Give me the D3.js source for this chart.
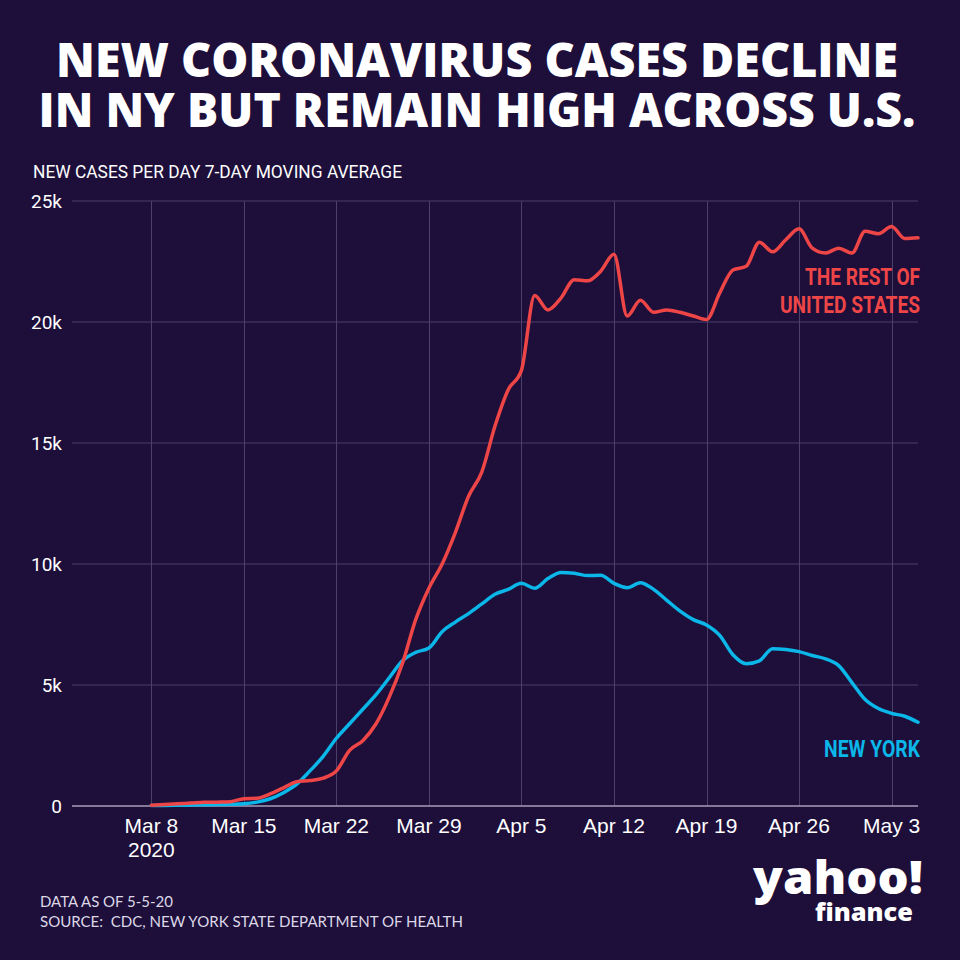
<!DOCTYPE html>
<html>
<head>
<meta charset="utf-8">
<script src="https://cdn.jsdelivr.net/npm/d3@7"></script>
<style>
  html, body { margin: 0; padding: 0; background: #1d0e3a; }
  svg { display: block; }
</style>
</head>
<body>
<svg id="chart" width="960" height="960"></svg>
<script>
// ---------- DATA ----------
const dates = [
  "2020-03-08","2020-03-09","2020-03-10","2020-03-11","2020-03-12","2020-03-13","2020-03-14",
  "2020-03-15","2020-03-16","2020-03-17","2020-03-18","2020-03-19","2020-03-20","2020-03-21",
  "2020-03-22","2020-03-23","2020-03-24","2020-03-25","2020-03-26","2020-03-27","2020-03-28",
  "2020-03-29","2020-03-30","2020-03-31","2020-04-01","2020-04-02","2020-04-03","2020-04-04",
  "2020-04-05","2020-04-06","2020-04-07","2020-04-08","2020-04-09","2020-04-10","2020-04-11",
  "2020-04-12","2020-04-13","2020-04-14","2020-04-15","2020-04-16","2020-04-17","2020-04-18",
  "2020-04-19","2020-04-20","2020-04-21","2020-04-22","2020-04-23","2020-04-24","2020-04-25",
  "2020-04-26","2020-04-27","2020-04-28","2020-04-29","2020-04-30","2020-05-01","2020-05-02",
  "2020-05-03","2020-05-04","2020-05-05"
];
const restOfUS = [
  30, 60, 90, 120, 150, 160, 180,
  300, 320, 500, 750, 1000, 1050, 1150,
  1450, 2300, 2700, 3400, 4500, 5900, 7700,
  9000, 10000, 11300, 12800, 13800, 15700, 17200,
  18000, 21100, 20500, 21000, 21750, 21700, 22100,
  22800, 20250, 20900, 20400, 20500, 20400, 20250,
  20100, 21200, 22150, 22300, 23300, 22900, 23400,
  23850, 23050, 22850, 23050, 22850, 23750, 23650,
  23950, 23450, 23480
];
const newYork = [
  20, 25, 30, 40, 50, 60, 70,
  90, 160, 300, 550, 900, 1450, 2050,
  2800, 3400, 4000, 4600, 5300, 6000, 6350,
  6530, 7200, 7600, 7950, 8350, 8750, 8950,
  9200, 9000, 9400, 9650, 9620, 9520, 9530,
  9200, 9020, 9230, 8950, 8500, 8050, 7700,
  7480, 7050, 6250, 5880, 6000, 6500, 6470,
  6380, 6220, 6080, 5800, 5100, 4400, 4030,
  3830, 3710, 3460
];
const xTickDates = ["2020-03-08","2020-03-15","2020-03-22","2020-03-29","2020-04-05","2020-04-12","2020-04-19","2020-04-26","2020-05-03"];
const xTickLabels = ["Mar 8","Mar 15","Mar 22","Mar 29","Apr 5","Apr 12","Apr 19","Apr 26","May 3"];
const yTicks = [0, 5000, 10000, 15000, 20000, 25000];
const yTickLabels = ["0","5k","10k","15k","20k","25k"];
const titleLines = ["NEW CORONAVIRUS CASES DECLINE", "IN NY BUT REMAIN HIGH ACROSS U.S."];
const subtitle = "NEW CASES PER DAY 7-DAY MOVING AVERAGE";
const footnotes = ["DATA AS OF 5-5-20", "SOURCE:  CDC, NEW YORK STATE DEPARTMENT OF HEALTH"];

// ---------- SETUP ----------
const parse = d3.timeParse("%Y-%m-%d");
const svg = d3.select("#chart");
const BG = "#1d0e3a", RED = "#ee4647", BLUE = "#0bb6e8", GRID = "#4b4068";

svg.append("rect").attr("width", 960).attr("height", 960).attr("fill", BG);

const x = d3.scaleTime()
  .domain([parse("2020-03-02"), parse("2020-05-06")])
  .range([72, 918 + 13.22]);
const y = d3.scaleLinear().domain([0, 25000]).range([806, 201]);
const plotRight = 918;

// Title (one text block, two lines)
const title = svg.append("text")
  .style("font-family", "'Open Sans', sans-serif")
  .style("font-weight", 800)
  .style("font-size", "47px")
  .attr("fill", "#ffffff")
  .attr("text-anchor", "middle");
title.selectAll("tspan").data(titleLines).enter().append("tspan")
  .attr("x", 477).attr("y", (d, i) => 77 + i * 50)
  .attr("textLength", (d, i) => i === 0 ? 842 : 877)
  .attr("lengthAdjust", "spacingAndGlyphs")
  .text(d => d);

// Subtitle
svg.append("text")
  .attr("x", 33).attr("y", 178)
  .attr("textLength", 369).attr("lengthAdjust", "spacingAndGlyphs")
  .style("font-family", "Roboto, sans-serif")
  .style("font-size", "19px")
  .attr("fill", "#ffffff")
  .text(subtitle);

// Gridlines horizontal
svg.append("g").selectAll("line").data(yTicks.filter(v => v > 0)).enter().append("line")
  .attr("x1", 72).attr("x2", plotRight)
  .attr("y1", d => y(d)).attr("y2", d => y(d))
  .attr("stroke", GRID).attr("stroke-width", 1);

// Gridlines vertical
svg.append("g").selectAll("line").data(xTickDates).enter().append("line")
  .attr("x1", d => Math.round(x(parse(d))) + 0.5).attr("x2", d => Math.round(x(parse(d))) + 0.5)
  .attr("y1", y(25000)).attr("y2", y(0))
  .attr("stroke", GRID).attr("stroke-width", 1);

// Zero baseline
svg.append("line")
  .attr("x1", 72).attr("x2", plotRight)
  .attr("y1", y(0)).attr("y2", y(0))
  .attr("stroke", "#a59fb8").attr("stroke-width", 1.5);

// Y tick labels
svg.append("g").selectAll("text").data(yTicks).enter().append("text")
  .attr("x", 62).attr("y", d => y(d) + 7)
  .attr("text-anchor", "end")
  .style("font-family", "Roboto, sans-serif")
  .style("font-size", "19px")
  .attr("fill", "#ffffff")
  .text((d, i) => yTickLabels[i]);

// X tick labels
svg.append("g").selectAll("text").data(xTickDates).enter().append("text")
  .attr("x", d => x(parse(d)))
  .attr("y", 833)
  .attr("text-anchor", "middle")
  .style("font-family", "'Liberation Sans', Arial, sans-serif")
  .style("font-size", "21px")
  .attr("fill", "#ffffff")
  .text((d, i) => xTickLabels[i]);
svg.append("text")
  .attr("x", x(parse(xTickDates[0]))).attr("y", 857)
  .attr("text-anchor", "middle")
  .style("font-family", "'Liberation Sans', Arial, sans-serif")
  .style("font-size", "21px")
  .attr("fill", "#ffffff")
  .text("2020");

// Lines
const line = d3.line()
  .x((d, i) => x(parse(dates[i])))
  .y(d => y(d))
  .curve(d3.curveMonotoneX);

svg.append("path").datum(newYork)
  .attr("d", line).attr("fill", "none")
  .attr("stroke", BLUE).attr("stroke-width", 3.5)
  .attr("stroke-linejoin", "round").attr("stroke-linecap", "round");

svg.append("path").datum(restOfUS)
  .attr("d", line).attr("fill", "none")
  .attr("stroke", RED).attr("stroke-width", 3.5)
  .attr("stroke-linejoin", "round").attr("stroke-linecap", "round");

// Series labels
const labelStyle = sel => sel
  .attr("text-anchor", "end")
  .attr("lengthAdjust", "spacingAndGlyphs")
  .style("font-family", "Roboto, sans-serif")
  .style("font-weight", 700)
  .style("font-size", "23px");

svg.append("text").call(labelStyle)
  .attr("x", 920).attr("y", 285).attr("textLength", 115)
  .attr("fill", RED).text("THE REST OF");
svg.append("text").call(labelStyle)
  .attr("x", 920).attr("y", 313).attr("textLength", 140)
  .attr("fill", RED).text("UNITED STATES");
svg.append("text").call(labelStyle)
  .attr("x", 920).attr("y", 757).attr("textLength", 96)
  .attr("fill", BLUE).text("NEW YORK");

// Footnotes
svg.selectAll("text.foot").data(footnotes).enter().append("text")
  .attr("class", "foot")
  .attr("x", 40).attr("y", (d, i) => 907 + i * 20)
  .attr("textLength", (d, i) => i === 0 ? 133 : 423)
  .attr("lengthAdjust", "spacingAndGlyphs")
  .style("font-family", "Lato, sans-serif")
  .style("font-size", "15px")
  .style("white-space", "pre")
  .attr("fill", "#dcd8e6")
  .text(d => d);

// Logo (one text block)
const logo = svg.append("text")
  .style("font-family", "'Open Sans', sans-serif")
  .style("font-weight", 800)
  .attr("fill", "#ffffff");
logo.append("tspan")
  .attr("x", 753).attr("y", 894)
  .attr("textLength", 170).attr("lengthAdjust", "spacingAndGlyphs")
  .style("font-size", "46px")
  .text("yahoo!");
logo.append("tspan")
  .attr("x", 815).attr("y", 921)
  .attr("textLength", 98).attr("lengthAdjust", "spacingAndGlyphs")
  .style("font-size", "25px")
  .text("finance");
</script>
</body>
</html>
